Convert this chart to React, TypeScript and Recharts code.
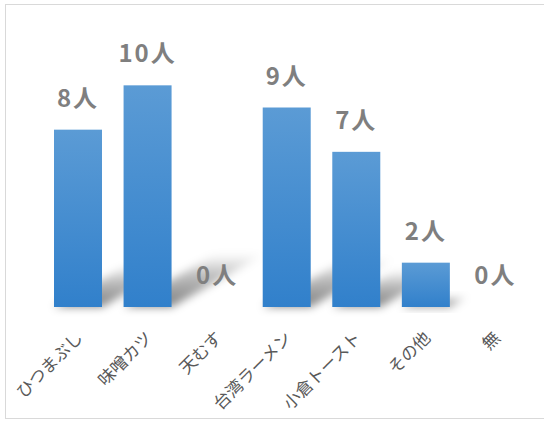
import { Bar, BarChart, LabelList, XAxis, YAxis } from "recharts";

const categories = ["ひつまぶし", "味噌カツ", "天むす", "台湾ラーメン", "小倉トースト", "その他", "無"];
const votes = [8, 10, 0, 9, 7, 2, 0];

const data = categories.map((name, i) => ({ name, votes: votes[i] }));

const JP = '"Noto Sans CJK JP", "Noto Sans", sans-serif';

// bar with a slanted, fading shadow behind it
function ShadowBar(props: any) {
  const { x, y, width, height } = props;
  const base = y + height;
  const dx = height * 0.42;
  const dy = height * 0.24;
  const pts = `${x},${base} ${x + width},${base} ${x + width + dx},${base - dy} ${x + dx},${base - dy}`;
  return (
    <g>
      {height > 0 && (
        <polygon points={pts} fill="url(#shadowFade)" filter="url(#shadowBlur)" />
      )}
      <rect x={x} y={y} width={width} height={height} fill="url(#barFill)" />
    </g>
  );
}

function SlantTick(props: any) {
  const { x, y, payload } = props;
  return (
    <g transform={`translate(${x + 6},${y + 24})`}>
      <text
        textAnchor="end"
        transform="rotate(-45)"
        fontFamily={JP}
        fontSize={17}
        fill="#595959"
      >
        {payload.value}
      </text>
    </g>
  );
}

export default function App() {
  return (
    <div
      style={{
        position: "fixed",
        left: 0,
        top: 0,
        width: 544,
        height: 421,
        overflow: "hidden",
        background: "#fff",
      }}
    >
      <div
        style={{
          position: "absolute",
          left: 5,
          top: 4,
          width: 560,
          height: 413,
          border: "1px solid #d9d9d9",
        }}
      />
      <div style={{ position: "absolute", left: 0, top: 0 }}>
        <BarChart
          width={544}
          height={421}
          data={data}
          margin={{ top: 41, right: 14, left: 43, bottom: 0 }}
          barSize={48}
        >
          <defs>
            <linearGradient id="barFill" x1="0" y1="0" x2="0" y2="1">
              <stop offset="0%" stopColor="#5b9bd5" />
              <stop offset="100%" stopColor="#3180cb" />
            </linearGradient>
            <linearGradient id="shadowFade" x1="0" y1="1" x2="0" y2="0">
              <stop offset="0%" stopColor="#000" stopOpacity={0.5} />
              <stop offset="60%" stopColor="#000" stopOpacity={0.25} />
              <stop offset="100%" stopColor="#000" stopOpacity={0} />
            </linearGradient>
            <filter id="shadowBlur" x="-50%" y="-50%" width="200%" height="200%">
              <feGaussianBlur stdDeviation="4.5" />
            </filter>
          </defs>
          <XAxis
            dataKey="name"
            axisLine={false}
            tickLine={false}
            interval={0}
            height={114}
            tick={<SlantTick />}
          />
          <YAxis hide domain={[0, 12]} />
          <Bar dataKey="votes" shape={<ShadowBar />} isAnimationActive={false}>
            <LabelList
              dataKey="votes"
              position="top"
              offset={23}
              formatter={(v: any) => `${v}人`}
              fill="#7f7f7f"
              fontFamily={JP}
              fontWeight="bold"
              fontSize={24}
              letterSpacing={2}
            />
          </Bar>
        </BarChart>
      </div>
    </div>
  );
}
